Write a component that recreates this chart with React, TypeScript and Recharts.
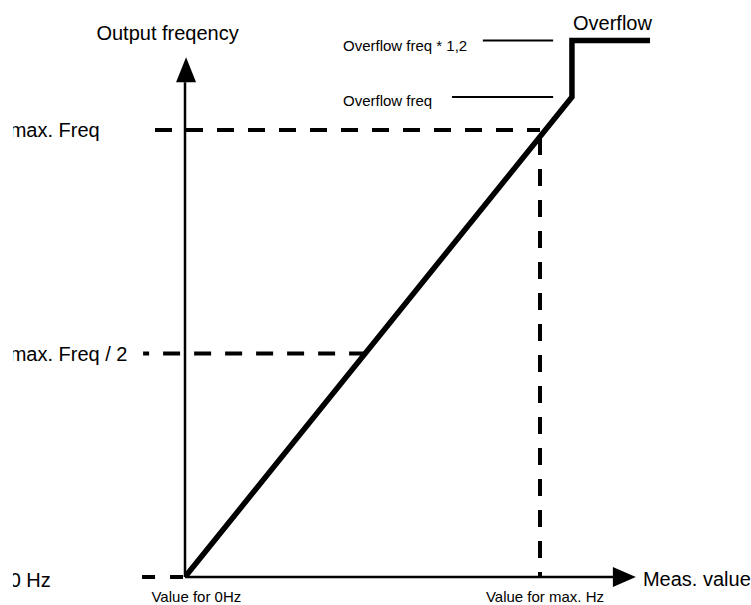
import React from "react";
import { ComposedChart, Line, XAxis, YAxis, ReferenceLine, ReferenceDot } from "recharts";

// Transfer curve: measured value (x) -> output frequency (y); 1 = max. Freq / value for max. Hz
const curveX = [0, 1.09, 1.09, 1.31];
const curveY = [0, 1.074, 1.2, 1.2];

const overflowFreq = 1.074;
const overflowLevel = 1.2;
const maxFreq = 1;
const halfFreq = 0.5;
const maxHzValue = 1;

const yTickValues = [0, 0.5, 1];
const yTickLabels = ["0 Hz", "max. Freq / 2", "max. Freq"];
const xTickValues = [0.032, 1.014];
const xTickLabels = ["Value for 0Hz", "Value for max. Hz"];

const axisTitleY = "Output freqency";
const axisTitleX = "Meas. value";
const overflowLabels = ["Overflow freq * 1,2", "Overflow freq"];
const overflowTitle = "Overflow";

const data = curveX.map((x, i) => ({ x, y: curveY[i] }));

const FONT = "'Liberation Sans', Arial, Helvetica, sans-serif";

const W = 738;
const H = 605;

const makeText =
  (txt: string, size: number, anchor: "start" | "middle" | "end", dy = 0) =>
  (p: any) =>
    (
      <text
        x={p.cx}
        y={p.cy + dy}
        fontSize={size}
        fontFamily={FONT}
        fill="#000"
        textAnchor={anchor}
        dominantBaseline="central"
      >
        {txt}
      </text>
    );

const upArrow = (p: any) => (
  <polygon points={`${p.cx},${p.cy} ${p.cx - 10},${p.cy + 25} ${p.cx + 10},${p.cy + 25}`} fill="#000" />
);
const rightArrow = (p: any) => (
  <polygon points={`${p.cx},${p.cy} ${p.cx - 23},${p.cy - 10} ${p.cx - 23},${p.cy + 10}`} fill="#000" />
);

export default function App() {
  const dash = { stroke: "#000", strokeWidth: 4, ifOverflow: "visible" as const };
  return (
    <div style={{ position: "absolute", left: 13, top: 0, width: W, height: H, background: "#fff" }}>
      <ComposedChart
        width={W}
        height={H}
        data={data}
        margin={{ top: 18.25, right: 69, bottom: 28, left: 172 }}
      >
        <XAxis type="number" dataKey="x" domain={[0, 1.4]} hide allowDataOverflow />
        <YAxis type="number" domain={[0, 1.25]} hide allowDataOverflow />

        {/* axes */}
        <ReferenceLine segment={[{ x: 0, y: 0 }, { x: 0, y: 1.107 }]} stroke="#000" strokeWidth={2.5} ifOverflow="visible" />
        <ReferenceLine segment={[{ x: 0, y: 0 }, { x: 1.206, y: 0 }]} stroke="#000" strokeWidth={2.5} ifOverflow="visible" />
        <ReferenceDot x={0.003} y={1.163} r={0} ifOverflow="visible" shape={upArrow} />
        <ReferenceDot x={1.27} y={0} r={0} ifOverflow="visible" shape={rightArrow} />

        {/* dashed guides */}
        <ReferenceLine segment={[{ x: -0.0845, y: maxFreq }, { x: maxHzValue, y: maxFreq }]} strokeDasharray="17 14" {...dash} />
        <ReferenceLine segment={[{ x: maxHzValue, y: maxFreq }, { x: maxHzValue, y: 0 }]} strokeDasharray="17 14" strokeDashoffset={-8} {...dash} />
        <ReferenceLine segment={[{ x: -0.118, y: halfFreq }, { x: 0.5075, y: halfFreq }]} strokeDasharray="17 14" strokeDashoffset={11} {...dash} />
        <ReferenceLine segment={[{ x: -0.121, y: 0 }, { x: 0, y: 0 }]} strokeDasharray="13 15" {...dash} />

        {/* overflow leader lines */}
        <ReferenceLine segment={[{ x: 0.839, y: overflowLevel }, { x: 1.037, y: overflowLevel }]} stroke="#000" strokeWidth={2} ifOverflow="visible" />
        <ReferenceLine segment={[{ x: 0.752, y: overflowFreq }, { x: 1.037, y: overflowFreq }]} stroke="#000" strokeWidth={2} ifOverflow="visible" />

        <Line
          type="linear"
          dataKey="y"
          stroke="#000"
          strokeWidth={5.5}
          strokeLinejoin="miter"
          strokeLinecap="butt"
          dot={false}
          activeDot={false}
          isAnimationActive={false}
        />

        {/* texts */}
        <ReferenceDot x={-0.049} y={1.217} r={0} ifOverflow="visible" shape={makeText(axisTitleY, 20, "middle")} />
        <ReferenceDot x={1.29} y={0} r={0} ifOverflow="visible" shape={makeText(axisTitleX, 20, "start", 2)} />
        {yTickValues.map((v, i) => (
          <ReferenceDot
            key={"yt" + i}
            x={-0.494}
            y={v}
            r={0}
            ifOverflow="visible"
            shape={makeText(yTickLabels[i], 20, "start", v === 0 ? 3 : 0)}
          />
        ))}
        {xTickValues.map((v, i) => (
          <ReferenceDot key={"xt" + i} x={v} y={-0.043} r={0} ifOverflow="visible" shape={makeText(xTickLabels[i], 15, "middle")} />
        ))}
        <ReferenceDot x={0.445} y={1.19} r={0} ifOverflow="visible" shape={makeText(overflowLabels[0], 15, "start")} />
        <ReferenceDot x={0.445} y={1.067} r={0} ifOverflow="visible" shape={makeText(overflowLabels[1], 15, "start")} />
        <ReferenceDot x={1.093} y={1.239} r={0} ifOverflow="visible" shape={makeText(overflowTitle, 20, "start")} />
      </ComposedChart>
    </div>
  );
}
